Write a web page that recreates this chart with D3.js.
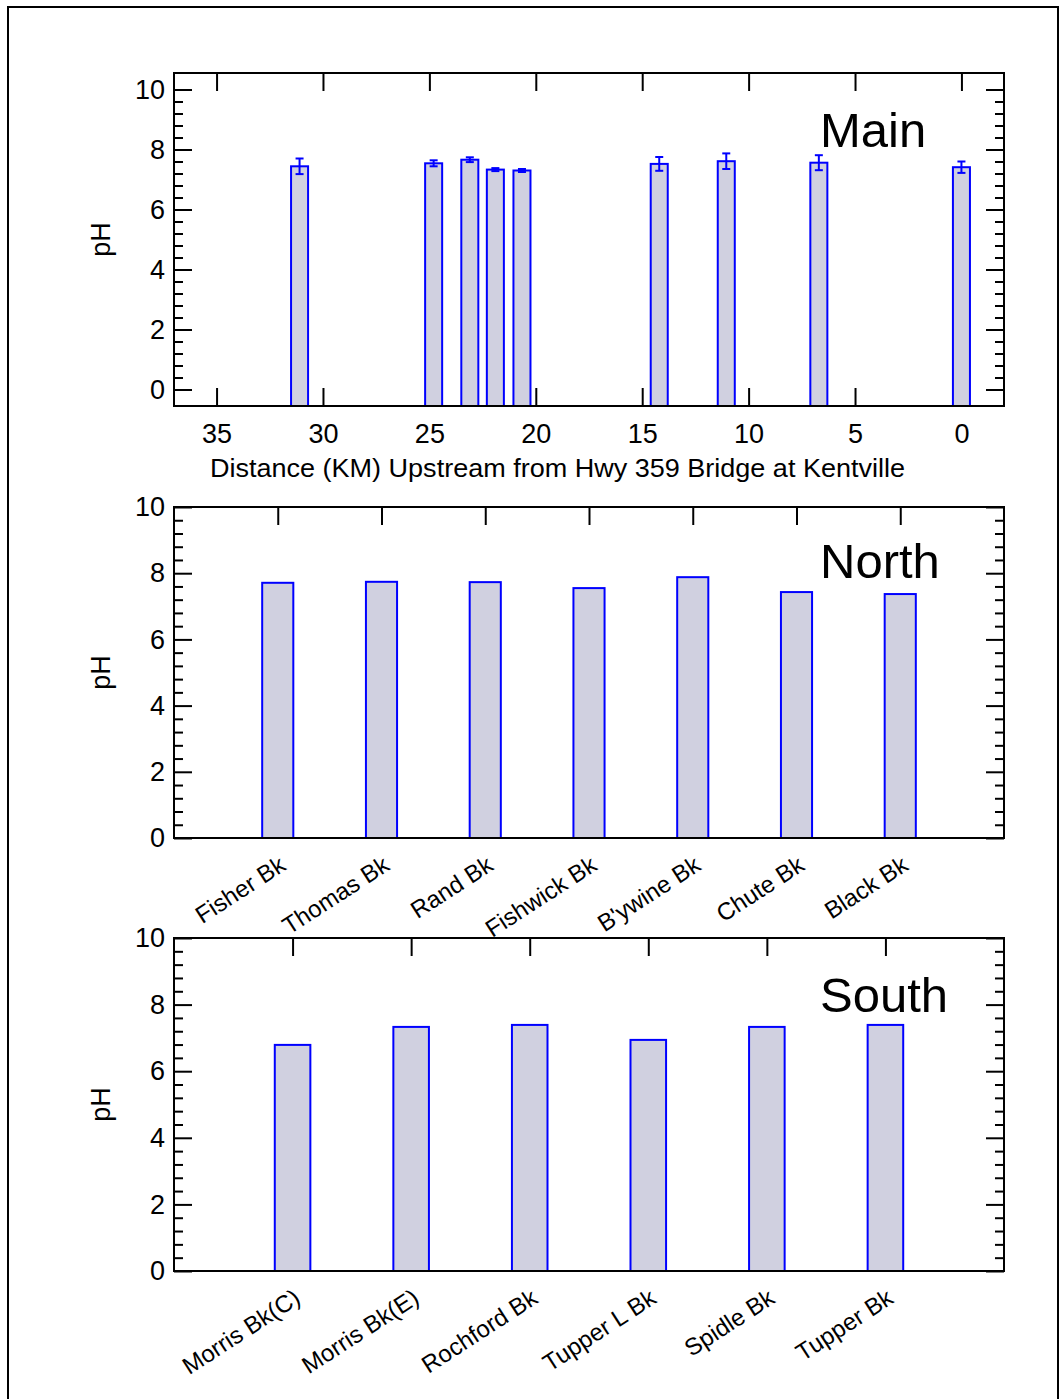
<!DOCTYPE html>
<html>
<head>
<meta charset="utf-8">
<script src="https://cdn.jsdelivr.net/npm/d3@7"></script>
<style>
    body { margin: 0; background: #fff; }
    svg { display: block; font-family: "Liberation Sans", Arial, sans-serif; }
    .axis path.domain { display: none; }
    .axis line { stroke: #000; stroke-width: 2; }
</style>
</head>
<body>
<div class="canvas"></div>

<script>

    // main stem: distance upstream (km), mean pH, error
    const mainDist = [31.1, 24.8, 23.1, 21.9, 20.65, 14.2, 11.05, 6.7, 0.0];
    const mainPH = [7.44, 7.54, 7.66, 7.33, 7.30, 7.52, 7.61, 7.56, 7.41];
    const mainErr = [0.26, 0.10, 0.08, 0.05, 0.05, 0.23, 0.26, 0.25, 0.19];
    const distTicks = [35, 30, 25, 20, 15, 10, 5, 0];

    const northNames = ["Fisher Bk", "Thomas Bk", "Rand Bk", "Fishwick Bk", "B'ywine Bk", "Chute Bk", "Black Bk"];
    const northPH = [7.71, 7.74, 7.73, 7.55, 7.88, 7.43, 7.37];

    const southNames = ["Morris Bk(C)", "Morris Bk(E)", "Rochford Bk", "Tupper L Bk", "Spidle Bk", "Tupper Bk"];
    const southPH = [6.79, 7.33, 7.39, 6.94, 7.33, 7.39];

    const phMajor = [0, 2, 4, 6, 8, 10];

    (function () {
        const width = 1062;
        const height = 1399;
        const LEFT = 174;
        const RIGHT = 1004;
        const MAJOR = 18;
        const MINOR = 9;
        const FILL = "#d0d0e0";
        const BLUE = "#0000ff";

        const minorVals = d3.range(0, 26).map(k => +(k * 0.4).toFixed(1)).filter(v => Math.abs(v / 2 - Math.round(v / 2)) > 1e-6);

        const svg = d3.select(".canvas").append("svg")
            .attr("width", width)
            .attr("height", height)

        // outer frame
        svg.append("rect")
            .attr("x", 8).attr("y", 7)
            .attr("width", 1050).attr("height", 1400)
            .attr("fill", "none").attr("stroke", "#000").attr("stroke-width", 2)

        function yAxes(g, y) {
            g.append("g").attr("class", "axis")
                .attr("transform", "translate(" + LEFT + ",0)")
                .call(d3.axisLeft(y).tickValues(minorVals).tickSize(-MINOR).tickFormat(""));
            g.append("g").attr("class", "axis")
                .attr("transform", "translate(" + LEFT + ",0)")
                .call(d3.axisLeft(y).tickValues(phMajor).tickSize(-MAJOR).tickPadding(9).tickFormat(d3.format("d")))
                .call(a => a.selectAll("text").attr("font-size", 27).attr("font-family", "Liberation Sans, Arial, sans-serif").attr("fill", "#000"));
            g.append("g").attr("class", "axis")
                .attr("transform", "translate(" + RIGHT + ",0)")
                .call(d3.axisRight(y).tickValues(minorVals).tickSize(-MINOR).tickFormat(""));
            g.append("g").attr("class", "axis")
                .attr("transform", "translate(" + RIGHT + ",0)")
                .call(d3.axisRight(y).tickValues(phMajor).tickSize(-MAJOR).tickFormat(""));
        }

        function panelFrame(g, top, bottom, title, titleY) {
            g.append("rect")
                .attr("x", LEFT).attr("y", top)
                .attr("width", RIGHT - LEFT).attr("height", bottom - top)
                .attr("fill", "none").attr("stroke", "#000").attr("stroke-width", 2)
            g.append("text")
                .attr("transform", "translate(110," + ((top + bottom) / 2) + ") rotate(-90)")
                .attr("text-anchor", "middle")
                .attr("font-size", 27)
                .text("pH")
            g.append("text")
                .attr("x", 820).attr("y", titleY)
                .attr("font-size", 49)
                .text(title)
        }

        // ---- Main panel
        {
            const top = 73, bottom = 406;
            const g = svg.append("g");
            const x = d3.scaleLinear().domain([37, -2]).range([LEFT, RIGHT]);
            const y = d3.scaleLinear().domain([-0.55, 10.55]).range([bottom, top]);

            g.append("g").attr("class", "axis")
                .attr("transform", "translate(0," + bottom + ")")
                .call(d3.axisBottom(x).tickValues(distTicks).tickSize(-MAJOR).tickPadding(18).tickFormat(d3.format("d")))
                .call(a => a.selectAll("text").attr("font-size", 27).attr("font-family", "Liberation Sans, Arial, sans-serif").attr("fill", "#000"));
            g.append("g").attr("class", "axis")
                .attr("transform", "translate(0," + top + ")")
                .call(d3.axisTop(x).tickValues(distTicks).tickSize(-MAJOR).tickFormat(""));
            yAxes(g, y);

            const bw = x(0) - x(0.8);
            g.selectAll("rect.bar").data(mainPH).enter().append("rect")
                .attr("class", "bar")
                .attr("x", (d, i) => x(mainDist[i]) - bw / 2)
                .attr("y", d => y(d))
                .attr("width", bw)
                .attr("height", d => bottom - y(d))
                .attr("fill", FILL).attr("stroke", BLUE).attr("stroke-width", 2)

            const eb = g.selectAll("g.err").data(mainPH).enter().append("g").attr("class", "err")
                .attr("stroke", BLUE).attr("stroke-width", 2);
            eb.append("line")
                .attr("x1", (d, i) => x(mainDist[i])).attr("x2", (d, i) => x(mainDist[i]))
                .attr("y1", (d, i) => y(d - mainErr[i])).attr("y2", (d, i) => y(d + mainErr[i]));
            eb.append("line")
                .attr("x1", (d, i) => x(mainDist[i]) - 4).attr("x2", (d, i) => x(mainDist[i]) + 4)
                .attr("y1", (d, i) => y(d - mainErr[i])).attr("y2", (d, i) => y(d - mainErr[i]));
            eb.append("line")
                .attr("x1", (d, i) => x(mainDist[i]) - 4).attr("x2", (d, i) => x(mainDist[i]) + 4)
                .attr("y1", (d, i) => y(d + mainErr[i])).attr("y2", (d, i) => y(d + mainErr[i]));

            panelFrame(g, top, bottom, "Main", 147);

            g.append("text")
                .attr("x", 210).attr("y", 477)
                .attr("font-size", 26)
                .attr("textLength", 695)
                .attr("lengthAdjust", "spacingAndGlyphs")
                .text("Distance (KM) Upstream from Hwy 359 Bridge at Kentville")
        }

        // ---- Tributary panels
        function categoryPanel(names, values, top, bottom, title, titleY) {
            const g = svg.append("g");
            const x = d3.scalePoint().domain(names).range([LEFT, RIGHT]).padding(1);
            const y = d3.scaleLinear().domain([0, 10]).range([bottom, top]);

            g.append("g").attr("class", "axis")
                .attr("transform", "translate(0," + bottom + ")")
                .call(d3.axisBottom(x).tickSize(-MAJOR))
                .call(a => a.selectAll("text")
                    .attr("x", 0).attr("y", 0).attr("dy", null)
                    .attr("text-anchor", "end")
                    .attr("transform", "translate(9,31) rotate(-33)")
                    .attr("font-size", 24)
                    .attr("font-family", "Liberation Sans, Arial, sans-serif")
                    .attr("fill", "#000"));
            g.append("g").attr("class", "axis")
                .attr("transform", "translate(0," + top + ")")
                .call(d3.axisTop(x).tickSize(-MAJOR).tickFormat(""));
            yAxes(g, y);

            const bw = x.step() * 0.3;
            g.selectAll("rect.bar").data(values).enter().append("rect")
                .attr("class", "bar")
                .attr("x", (d, i) => x(names[i]) - bw / 2)
                .attr("y", d => y(d))
                .attr("width", bw)
                .attr("height", d => y(0) - y(d))
                .attr("fill", FILL).attr("stroke", BLUE).attr("stroke-width", 2)

            panelFrame(g, top, bottom, title, titleY);
        }

        categoryPanel(northNames, northPH, 507, 838, "North", 578);
        categoryPanel(southNames, southPH, 938, 1271, "South", 1012);
    })()

</script>
</body>
</html>
